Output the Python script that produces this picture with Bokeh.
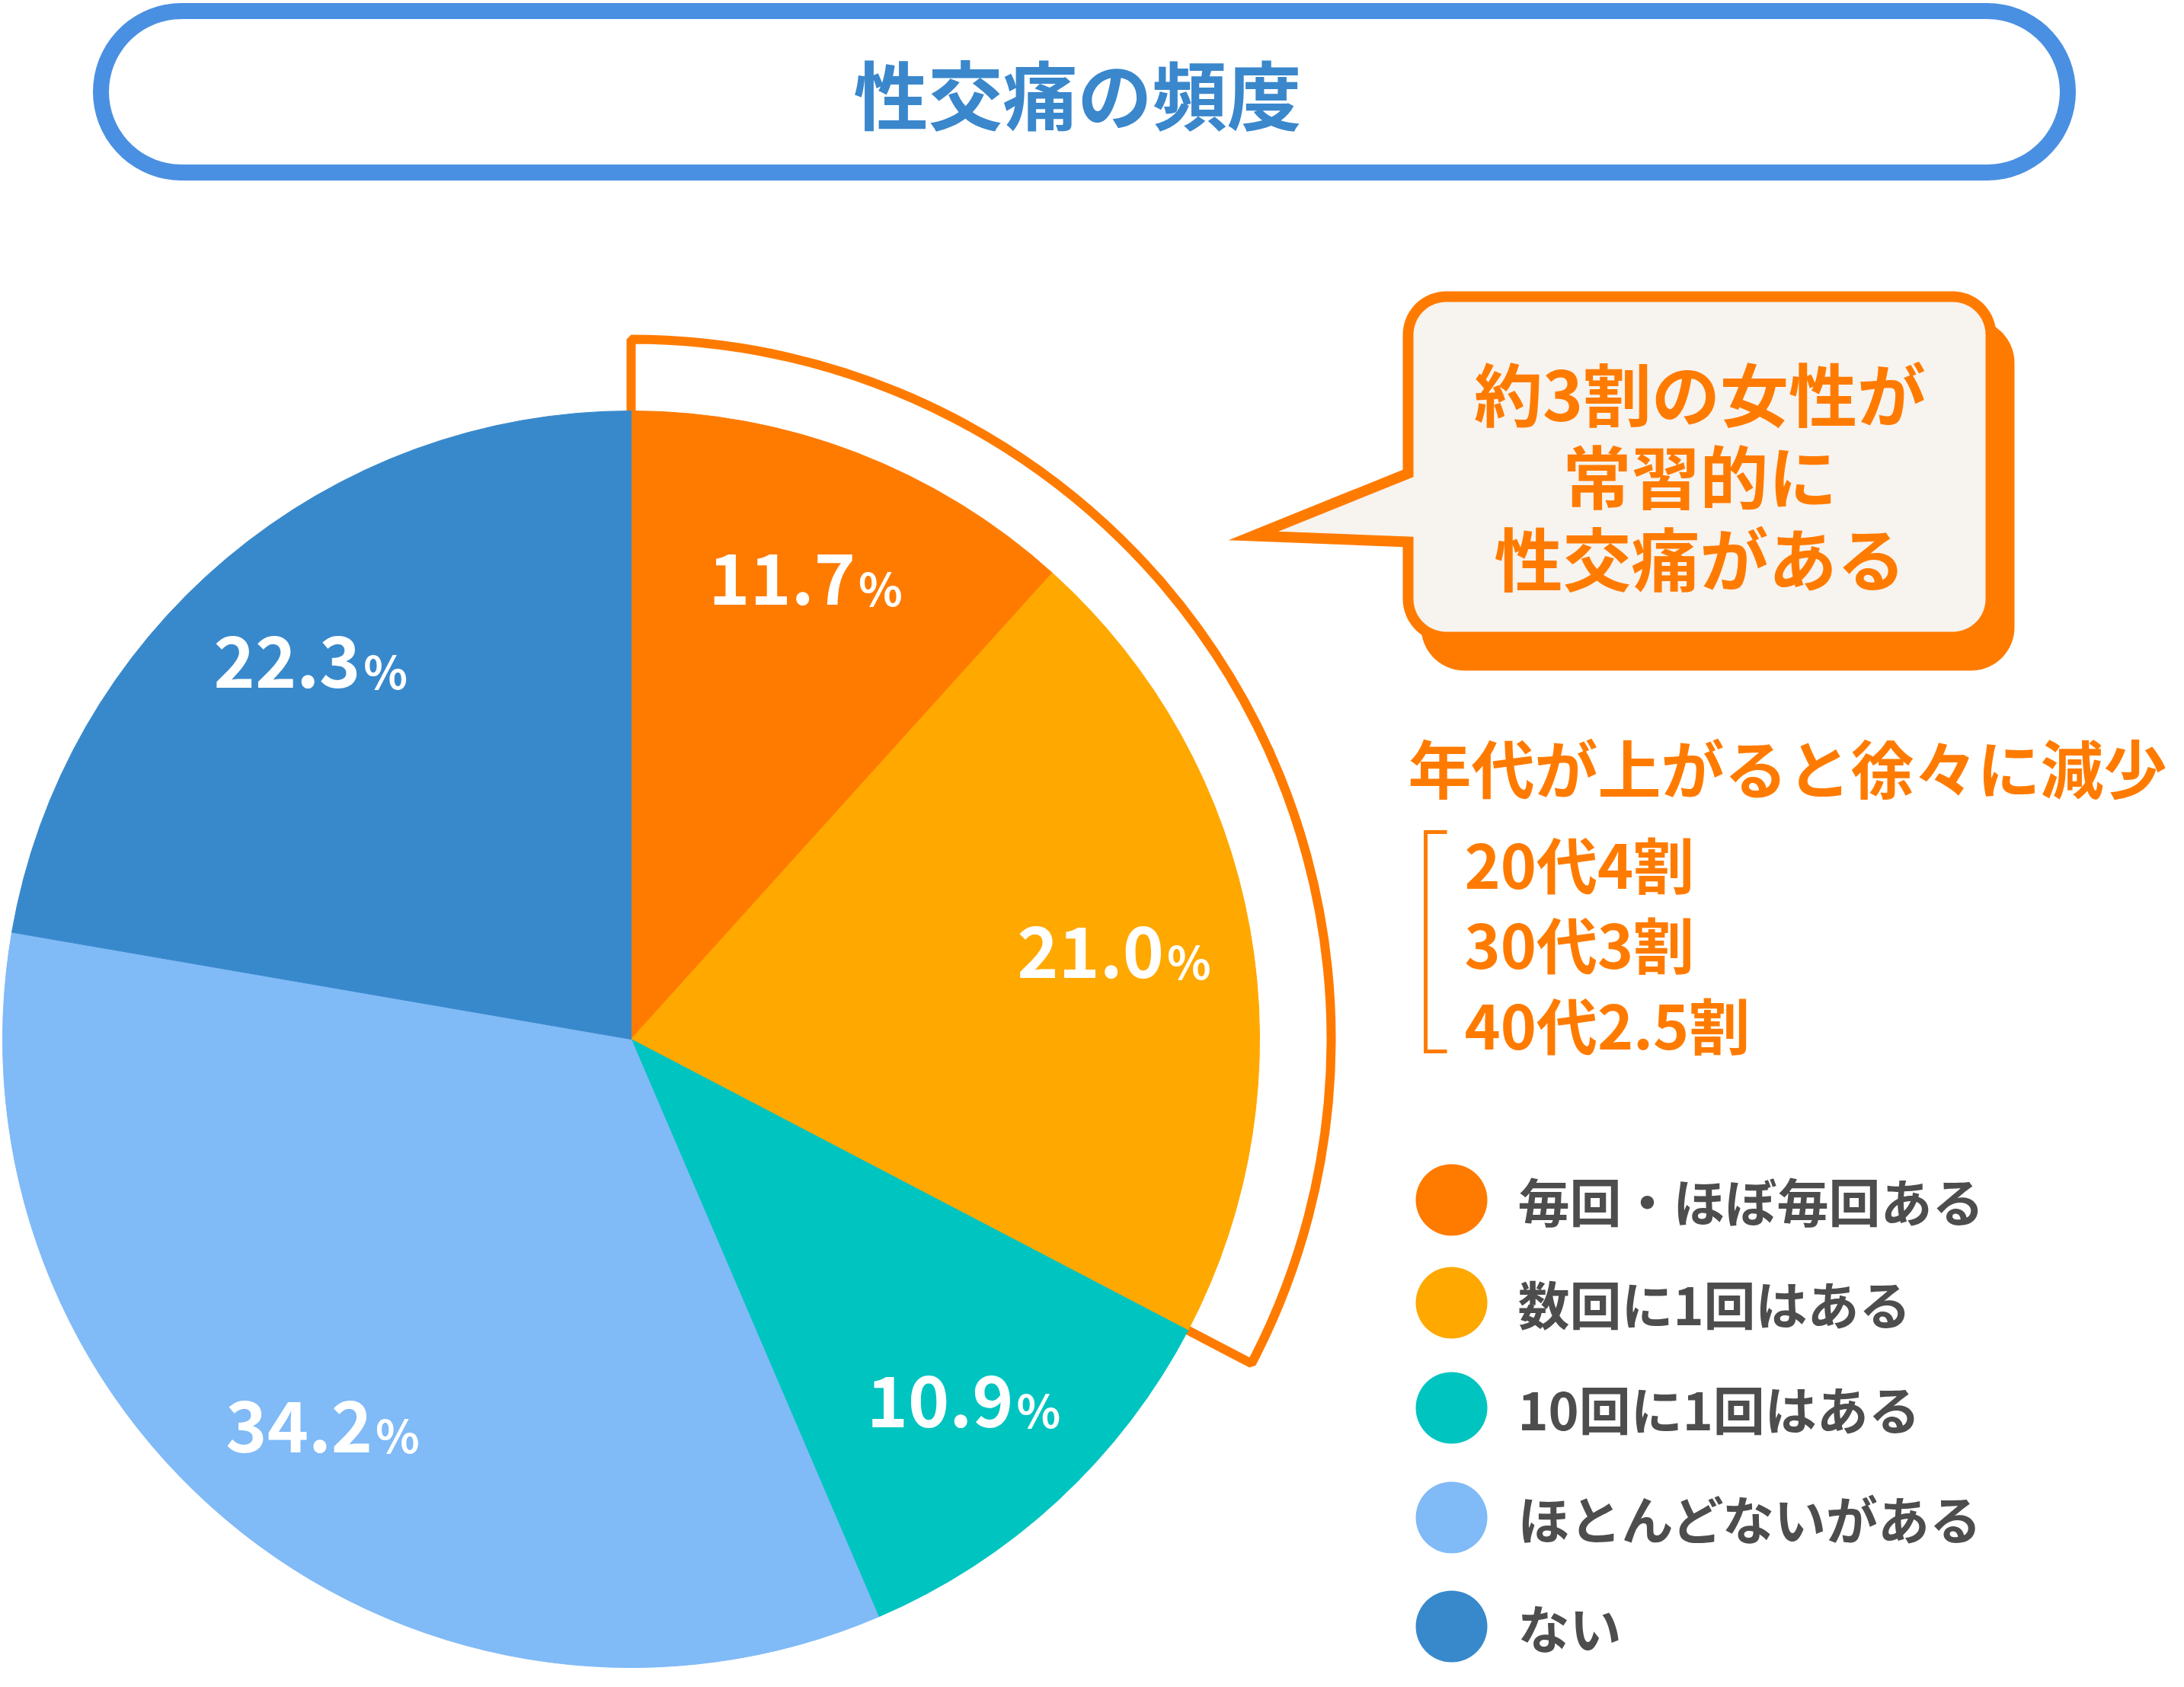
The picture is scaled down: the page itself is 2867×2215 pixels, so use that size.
import numpy as np
from bokeh.plotting import figure
from bokeh.models import Range1d, ColumnDataSource
from bokeh.core.properties import value
from bokeh.embed import file_html
from bokeh.resources import INLINE

title = "性交痛の頻度"
categories = ["毎回・ほぼ毎回ある", "数回に1回はある", "10回に1回はある", "ほとんどないがある", "ない"]
percents = [11.7, 21.0, 10.9, 34.2, 22.3]
callout_lines = ["約3割の女性が", "常習的に", "性交痛がある"]
trend_title = "年代が上がると徐々に減少"
trend_lines = ["20代4割", "30代3割", "40代2.5割"]
highlight_n = 2  # first two slices = the "常習的" group

palette = ["#FF7B00", "#FFA800", "#00C4C0", "#80BAF7", "#3889CC"]
ORANGE = "#FF7B00"
FONT = "Noto Sans CJK JP"

# drawing in the reference's pixel space (y flipped for bokeh), 1 unit = 1 px
PW, PH = 2851, 2199
H = 2215


def Y(v):
    return [float(H - a) for a in v]


def rounded_rect(x0, y0, x1, y1, r, n=18, tail=None):
    xs, ys = [], []
    corners = [(x1 - r, y0 + r, -90, 0), (x1 - r, y1 - r, 0, 90),
               (x0 + r, y1 - r, 90, 180), (x0 + r, y0 + r, 180, 270)]
    for i, (ccx, ccy, a0, a1) in enumerate(corners):
        t = np.radians(np.linspace(a0, a1, n))
        xs += [float(a) for a in ccx + r * np.cos(t)]
        ys += [float(a) for a in ccy + r * np.sin(t)]
        if i == 2 and tail is not None:
            for tx, ty in tail:
                xs.append(float(tx))
                ys.append(float(ty))
    return xs, Y(ys)


def add_text(x, y, text, size, color, align="left", baseline="middle"):
    src = ColumnDataSource(dict(x=[float(a) for a in x], y=[float(a) for a in y], text=list(text)))
    p.text(x="x", y="y", text="text", source=src, text_font=value(FONT), text_font_style="bold",
           text_font_size=size, text_color=color, text_align=align, text_baseline=baseline)


p = figure(width=PW, height=PH, x_range=Range1d(0, PW), y_range=Range1d(H - PH, H),
           output_backend="svg", toolbar_location=None, min_border=0)
p.axis.visible = False
p.grid.visible = False
p.outline_line_color = None

# title pill
tx, ty = rounded_rect(132, 14, 2714, 226, 106)
p.patch(tx, ty, fill_color="white", line_color="#4A90E2", line_width=21)

# pie
cx, cy, R = 828.0, float(H - 1364), 825.0
frac = np.array(percents) / sum(percents)
ends = np.cumsum(frac)
starts = ends - frac
start_ang = [float(a) for a in np.pi / 2 - 2 * np.pi * starts]
end_ang = [float(a) for a in np.pi / 2 - 2 * np.pi * ends]

# orange frame around the first two slices
p.annular_wedge(x=[cx], y=[cy], inner_radius=R - 14, outer_radius=919.0,
                start_angle=[float(np.pi / 2)], end_angle=[end_ang[highlight_n - 1]],
                direction="clock", fill_color="white", line_color=ORANGE, line_width=12)

pie = ColumnDataSource(dict(x=[cx] * 5, y=[cy] * 5, start=start_ang, end=end_ang, color=palette))
p.wedge(x="x", y="y", radius=R, start_angle="start", end_angle="end", direction="clock",
        fill_color="color", line_color="color", line_width=1, source=pie)

# callout bubble with shadow
sx, sy = rounded_rect(1848 + 24, 389 + 37, 2613 + 24, 836 + 37, 50)
p.patch(sx, sy, fill_color=ORANGE, line_color=ORANGE, line_width=14)
bx, by = rounded_rect(1848, 389, 2613, 836, 50,
                      tail=[(1848, 711), (1645, 703), (1848, 621)])
p.patch(bx, by, fill_color="#F7F3EF", line_color=ORANGE, line_width=14, line_join="miter")

# bracket for the age breakdown
p.line(x=[1899, 1871, 1871, 1899], y=Y([1092, 1092, 1380, 1380]), line_color=ORANGE,
       line_width=5, line_join="miter")

# legend dots
legend_y = Y([1575, 1710, 1848, 1992, 2135])
leg = ColumnDataSource(dict(x=[1905.0] * 5, y=legend_y, color=palette))
p.circle(x="x", y="y", radius=47, fill_color="color", line_color=None, source=leg)

# texts
add_text([1992] * 5, legend_y, categories, "68px", "#4D4D4D")
add_text([1922] * 3, Y([1131, 1236, 1342]), trend_lines, "80px", ORANGE)
add_text([1848], Y([1005]), [trend_title], "83px", ORANGE)
add_text([2231] * 3, Y([513, 621, 729]), callout_lines, "90px", ORANGE, align="center")

# slice labels: big number + small %
mid = np.pi / 2 - 2 * np.pi * (starts + ends) / 2
lx = cx + 0.785 * R * np.cos(mid)
ly = cy + 0.785 * R * np.sin(mid)
add_text(lx + 62, ly, [f"{v:.1f}" for v in percents], "92px", "white", align="right")
add_text(lx + 66, ly - 9, ["%"] * len(percents), "60px", "white", align="left")

add_text([1414], Y([119]), [title], "98px", "#3A87CC", align="center")

open("out.html", "w").write(file_html(p, INLINE))
